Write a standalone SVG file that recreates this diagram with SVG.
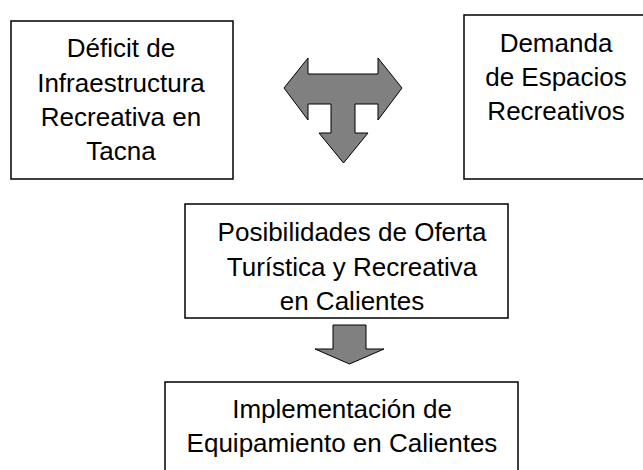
<svg xmlns="http://www.w3.org/2000/svg" width="643" height="470" viewBox="0 0 643 470">
<style>
.box{fill:#fff;stroke:#000;stroke-width:1.5}
.arrow{fill:#808080;stroke:#000;stroke-width:1}
text{font-family:"Liberation Sans",Arial,sans-serif;font-size:26px;fill:#000;text-anchor:middle}
</style>
<rect width="643" height="470" fill="#fff"/>
<g id="node-deficit">
<rect class="box" x="11" y="21" width="222" height="158"/>
<text x="121" y="57">Déficit de</text>
<text x="121" y="91.5">Infraestructura</text>
<text x="121" y="126">Recreativa en</text>
<text x="121" y="160">Tacna</text>
</g>
<g id="node-demanda">
<rect class="box" x="464" y="15" width="190" height="164"/>
<text x="556" y="52">Demanda</text>
<text x="556" y="86">de Espacios</text>
<text x="556" y="120">Recreativos</text>
</g>
<g id="node-posibilidades">
<rect class="box" x="185" y="204" width="323" height="114"/>
<text x="352" y="241">Posibilidades de Oferta</text>
<text x="352" y="275.5">Turística y Recreativa</text>
<text x="352" y="310">en Calientes</text>
</g>
<g id="node-implementacion">
<rect class="box" x="165" y="382" width="353" height="100"/>
<text x="342" y="418">Implementación de</text>
<text x="342" y="452">Equipamiento en Calientes</text>
</g>
<g id="connectors">
<polygon class="arrow" points="284,88 308,58 308,74 378,74 378,58 402,88 378,120 378,104 355,104 355,133 368,133 343.5,163 319,133 331,133 331,104 308,104 308,120"/>
<polygon class="arrow" points="333,325 366,325 366,349 384,349 349.5,364 315,349 333,349"/>
</g>
</svg>
